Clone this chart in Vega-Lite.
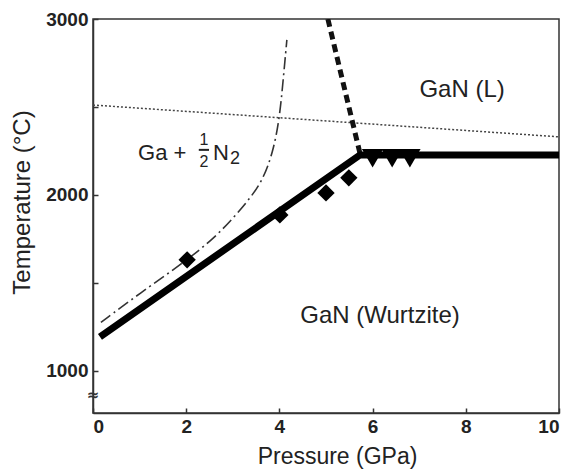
{
  "$schema": "https://vega.github.io/schema/vega-lite/v6.json",
  "width": 466,
  "height": 394,
  "autosize": {"type": "none"},
  "padding": {"left": 93, "top": 19, "right": 22, "bottom": 58},
  "background": "white",
  "config": {
    "view": {"stroke": "#333", "strokeWidth": 1.5},
    "font": "Liberation Sans",
    "axis": {
      "grid": false,
      "domainColor": "#333",
      "domainWidth": 1.5,
      "tickColor": "#333",
      "tickWidth": 1.5,
      "tickSize": -5,
      "labelFont": "Liberation Sans",
      "labelFontWeight": "bold",
      "labelFontSize": 19,
      "labelColor": "#222",
      "titleFont": "Liberation Sans",
      "titleFontWeight": "normal",
      "titleColor": "#222"
    }
  },
  "datasets": {
    "lines": [
      {"series": "solid", "P": 0.15, "T": 1193, "o": 1},
      {"series": "solid", "P": 5.73, "T": 2227, "o": 2},
      {"series": "solid", "P": 10.0, "T": 2227, "o": 3},
      {"series": "dashed", "P": 5.04, "T": 3000, "o": 1},
      {"series": "dashed", "P": 5.73, "T": 2235, "o": 2},
      {"series": "dotted", "P": 0.0, "T": 2511, "o": 1},
      {"series": "dotted", "P": 10.0, "T": 2330, "o": 2},
      {"series": "dashdot", "P": 0.17, "T": 1275, "o": 1},
      {"series": "dashdot", "P": 1.0, "T": 1440, "o": 2},
      {"series": "dashdot", "P": 2.0, "T": 1625, "o": 3},
      {"series": "dashdot", "P": 2.6, "T": 1755, "o": 4},
      {"series": "dashdot", "P": 3.0, "T": 1865, "o": 5},
      {"series": "dashdot", "P": 3.4, "T": 1990, "o": 6},
      {"series": "dashdot", "P": 3.65, "T": 2090, "o": 7},
      {"series": "dashdot", "P": 3.86, "T": 2240, "o": 8},
      {"series": "dashdot", "P": 4.0, "T": 2430, "o": 9},
      {"series": "dashdot", "P": 4.08, "T": 2650, "o": 10},
      {"series": "dashdot", "P": 4.16, "T": 2881, "o": 11}
    ],
    "diamonds": [
      {"P": 2.02, "T": 1631},
      {"P": 4.01, "T": 1886},
      {"P": 5.0, "T": 2011},
      {"P": 5.49, "T": 2097}
    ],
    "triangles": [
      {"P": 6.0, "T": 2208},
      {"P": 6.42, "T": 2208},
      {"P": 6.8, "T": 2208}
    ],
    "bigLabels": [
      {"text": "GaN (L)", "P": 7.92, "T": 2557},
      {"text": "GaN (Wurtzite)", "P": 6.16, "T": 1273}
    ],
    "gaLabels": [
      {"text": "Ga +", "P": 0.966, "T": 2199},
      {"text": "N", "P": 2.575, "T": 2199}
    ],
    "subLabel": [
      {"text": "2", "P": 2.94, "T": 2177}
    ],
    "fracLabels": [
      {"text": "1", "P": 2.38, "T": 2284},
      {"text": "2", "P": 2.38, "T": 2158}
    ],
    "fracbar": [
      {"P": 2.27, "P2": 2.49, "T": 2256}
    ],
    "brk": [
      {"P": 0.0, "T": 864, "text": "≈"}
    ]
  },
  "layer": [
    {
      "data": {"name": "lines"},
      "transform": [{"filter": "datum.series === 'dotted'"}],
      "mark": {"type": "line", "color": "#444", "strokeWidth": 1.5, "strokeDash": [2, 2], "clip": true},
      "encoding": {
        "x": {"field": "P", "type": "quantitative", "scale": {"domain": [0, 10], "nice": false},
          "axis": {"values": [0, 2, 4, 6, 8, 10], "title": "Pressure (GPa)", "titleFontSize": 23, "labelPadding": 9, "titleX": 244, "titleY": 50, "titleBaseline": "alphabetic"}},
        "y": {"field": "T", "type": "quantitative", "scale": {"domain": [760, 3000], "nice": false, "zero": false},
          "axis": {"values": [1000, 1500, 2000, 2500, 3000], "labelExpr": "datum.value % 1000 === 0 ? datum.label : ''", "format": "d", "title": "Temperature (°C)", "titleFontSize": 24, "labelPadding": 10, "titleX": -64, "titleY": 183, "titleBaseline": "alphabetic", "titleAngle": -90, "titleAlign": "center"}},
        "order": {"field": "o"}
      }
    },
    {
      "data": {"name": "lines"},
      "transform": [{"filter": "datum.series === 'dashdot'"}],
      "mark": {"type": "line", "color": "#333", "strokeWidth": 1.6, "strokeDash": [12, 4, 2, 4], "interpolate": "basis", "clip": true},
      "encoding": {
        "x": {"field": "P", "type": "quantitative"},
        "y": {"field": "T", "type": "quantitative"},
        "order": {"field": "o"}
      }
    },
    {
      "data": {"name": "lines"},
      "transform": [{"filter": "datum.series === 'dashed'"}],
      "mark": {"type": "line", "color": "#111", "strokeWidth": 5, "strokeDash": [8, 5], "clip": true},
      "encoding": {
        "x": {"field": "P", "type": "quantitative"},
        "y": {"field": "T", "type": "quantitative"},
        "order": {"field": "o"}
      }
    },
    {
      "data": {"name": "lines"},
      "transform": [{"filter": "datum.series === 'solid'"}],
      "mark": {"type": "line", "color": "#000", "strokeWidth": 7, "strokeCap": "butt", "clip": true},
      "encoding": {
        "x": {"field": "P", "type": "quantitative"},
        "y": {"field": "T", "type": "quantitative"},
        "order": {"field": "o"}
      }
    },
    {
      "data": {"name": "diamonds"},
      "mark": {"type": "point", "shape": "diamond", "filled": true, "color": "#000", "size": 300, "opacity": 1},
      "encoding": {
        "x": {"field": "P", "type": "quantitative"},
        "y": {"field": "T", "type": "quantitative"}
      }
    },
    {
      "data": {"name": "triangles"},
      "mark": {"type": "point", "shape": "triangle-down", "filled": true, "color": "#000", "size": 460, "opacity": 1},
      "encoding": {
        "x": {"field": "P", "type": "quantitative"},
        "y": {"field": "T", "type": "quantitative"}
      }
    },
    {
      "data": {"name": "bigLabels"},
      "mark": {"type": "text", "font": "Liberation Sans", "fontSize": 24, "color": "#222", "align": "center", "baseline": "alphabetic"},
      "encoding": {
        "x": {"field": "P", "type": "quantitative"},
        "y": {"field": "T", "type": "quantitative"},
        "text": {"field": "text"}
      }
    },
    {
      "data": {"name": "gaLabels"},
      "mark": {"type": "text", "font": "Liberation Sans", "fontSize": 22, "color": "#222", "align": "left", "baseline": "alphabetic"},
      "encoding": {
        "x": {"field": "P", "type": "quantitative"},
        "y": {"field": "T", "type": "quantitative"},
        "text": {"field": "text"}
      }
    },
    {
      "data": {"name": "subLabel"},
      "mark": {"type": "text", "font": "Liberation Sans", "fontSize": 18, "color": "#222", "align": "left", "baseline": "alphabetic"},
      "encoding": {
        "x": {"field": "P", "type": "quantitative"},
        "y": {"field": "T", "type": "quantitative"},
        "text": {"field": "text"}
      }
    },
    {
      "data": {"name": "fracLabels"},
      "mark": {"type": "text", "font": "Liberation Sans", "fontSize": 16, "color": "#222", "align": "center", "baseline": "alphabetic"},
      "encoding": {
        "x": {"field": "P", "type": "quantitative"},
        "y": {"field": "T", "type": "quantitative"},
        "text": {"field": "text"}
      }
    },
    {
      "data": {"name": "fracbar"},
      "mark": {"type": "rule", "color": "#222", "strokeWidth": 2},
      "encoding": {
        "x": {"field": "P", "type": "quantitative"},
        "x2": {"field": "P2"},
        "y": {"field": "T", "type": "quantitative"}
      }
    },
    {
      "data": {"name": "brk"},
      "mark": {"type": "text", "font": "DejaVu Sans", "fontSize": 15, "fontWeight": "bold", "color": "#333", "align": "center", "baseline": "middle", "clip": false},
      "encoding": {
        "x": {"field": "P", "type": "quantitative"},
        "y": {"field": "T", "type": "quantitative"},
        "text": {"field": "text"}
      }
    }
  ]
}
